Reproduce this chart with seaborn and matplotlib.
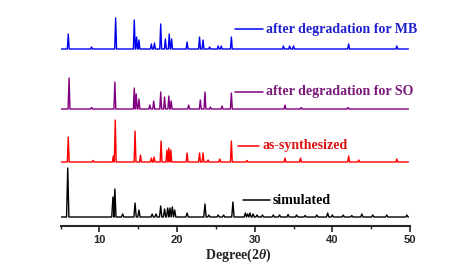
import matplotlib
matplotlib.use("Agg")
import matplotlib.pyplot as plt
import pandas as pd
import seaborn as sns
from matplotlib.ticker import MultipleLocator

# peak positions (2theta) and heights, per pattern
sim_pos = [5.93, 11.75, 12.0, 13.0, 14.6, 15.1, 16.8, 17.3, 17.9, 18.4, 18.8, 19.1, 19.4, 19.7,
           21.3, 23.6, 24.1, 25.3, 26.0, 27.2, 28.8, 29.1, 29.4, 29.8, 30.3, 31.0, 32.4, 33.2,
           34.3, 35.4, 36.5, 38.0, 39.4, 40.0, 41.4, 42.5, 43.8, 45.2, 47.0, 49.6]
sim_h = [49, 20, 28, 3, 14, 7, 3, 3, 11, 8, 9, 9, 10, 7,
         4, 13, 2, 2, 2, 15, 4, 3, 4, 3, 2, 2, 2, 2,
         2.5, 2, 1.5, 2, 4, 2, 2, 1.5, 3, 2, 2, 2]

syn_pos = [6.0, 9.2, 11.8, 12.05, 14.6, 15.3, 16.7, 17.05, 17.95, 18.7, 18.95, 19.2, 21.3,
           22.9, 23.35, 24.0, 25.5, 27.0, 29.0, 33.9, 35.9, 42.1, 43.4, 48.3]
syn_h = [25, 1.5, 6, 42, 31, 7, 4, 5, 21, 12, 14, 12, 9,
         9, 9, 2, 3, 21, 1.5, 4, 4, 6, 2, 3]

so_pos = [6.1, 9.0, 12.0, 14.5, 14.75, 15.1, 16.5, 17.0, 17.9, 18.4, 18.95, 19.25, 21.5,
          23.0, 23.6, 24.3, 25.8, 27.0, 33.9, 36.0, 42.0]
so_h = [31, 1.5, 27, 21, 15, 10, 4, 8, 17, 12, 13, 8, 4,
        9, 17, 2, 3, 16, 4, 1.5, 1.5]

mb_pos = [6.0, 9.0, 12.1, 14.5, 14.8, 15.1, 16.7, 17.1, 17.9, 18.5, 19.0, 19.3, 21.3,
          22.9, 23.35, 24.2, 25.3, 25.7, 27.0, 33.7, 34.5, 35.0, 42.1, 48.3]
mb_h = [15, 2, 31, 29, 12, 9, 5, 6, 25, 10, 15, 10, 7,
        12, 9, 2, 3, 3, 12, 3, 3, 3, 5, 3]

names = ["simulated", "as-synthesized", "after degradation for SO", "after degradation for MB"]
offsets = [0, 55, 108, 168]
colors = ["#000000", "#ff0000", "#800080", "#0000ee"]
text_colors = ["#000000", "#e01010", "#7a1a7a", "#2020d0"]
label_y = [17, 71, 125, 188]
label_x = [(28.5, 32.0), (27.85, 30.6), (27.46, 31.06), (27.46, 31.06)]


def profile(pos, h, name, off, w=0.12):
    xs, ys = [5.0], [0.0]
    for p, v in zip(pos, h):
        xs += [p - w, p, p + w]
        ys += [0.0, v, 0.0]
    xs.append(49.8)
    ys.append(0.0)
    return pd.DataFrame({"deg": xs, "I": [y + off for y in ys], "sample": name})


df = pd.concat([
    profile(sim_pos, sim_h, names[0], offsets[0], 0.15),
    profile(syn_pos, syn_h, names[1], offsets[1]),
    profile(so_pos, so_h, names[2], offsets[2]),
    profile(mb_pos, mb_h, names[3], offsets[3]),
])

sns.set_style("white")
plt.rcParams["font.family"] = ["Liberation Serif", "DejaVu Serif"]
plt.rcParams["mathtext.fontset"] = "custom"
plt.rcParams["mathtext.it"] = "Liberation Serif:italic:bold"
plt.rcParams["mathtext.rm"] = "Liberation Serif:bold"

fig = plt.figure(figsize=(4.76, 2.64), dpi=100)
ax = fig.add_axes([60.5 / 476, 38 / 264, 349.5 / 476, 216 / 264])
sns.lineplot(data=df, x="deg", y="I", hue="sample", palette=dict(zip(names, colors)),
             estimator=None, sort=False, legend=False, lw=1.0, ax=ax)

for i in range(4):
    x0, x1 = label_x[i]
    ax.plot([x0, x1], [label_y[i], label_y[i]], color=colors[i], lw=1.1)
    ax.text(x1 + 0.35, label_y[i], names[i], color=text_colors[i], fontsize=10,
            fontweight="bold", va="center", ha="left")

ax.set_xlim(5, 50)
ax.set_ylim(-9, 207)
ax.set_yticks([])
ax.set_ylabel("")
ax.set_xlabel("")
for s in ["left", "right", "top"]:
    ax.spines[s].set_visible(False)
ax.spines["bottom"].set_linewidth(1.5)
ax.xaxis.set_major_locator(MultipleLocator(10))
ax.xaxis.set_minor_locator(MultipleLocator(5))
ax.tick_params(axis="x", which="major", direction="out", length=4, width=1.2, bottom=True, pad=2.5)
ax.tick_params(axis="x", which="minor", direction="out", length=2.5, width=1.0, bottom=True)
for t in ax.get_xticklabels():
    t.set_fontfamily(["Liberation Sans", "DejaVu Sans"])
    t.set_fontweight("bold")
    t.set_fontsize(8)
fig.text(238 / 476, 9 / 264, "Degree(2$\\theta$)", fontsize=10, fontweight="bold",
         ha="center", va="center")

fig.savefig("out.png", dpi=100)
